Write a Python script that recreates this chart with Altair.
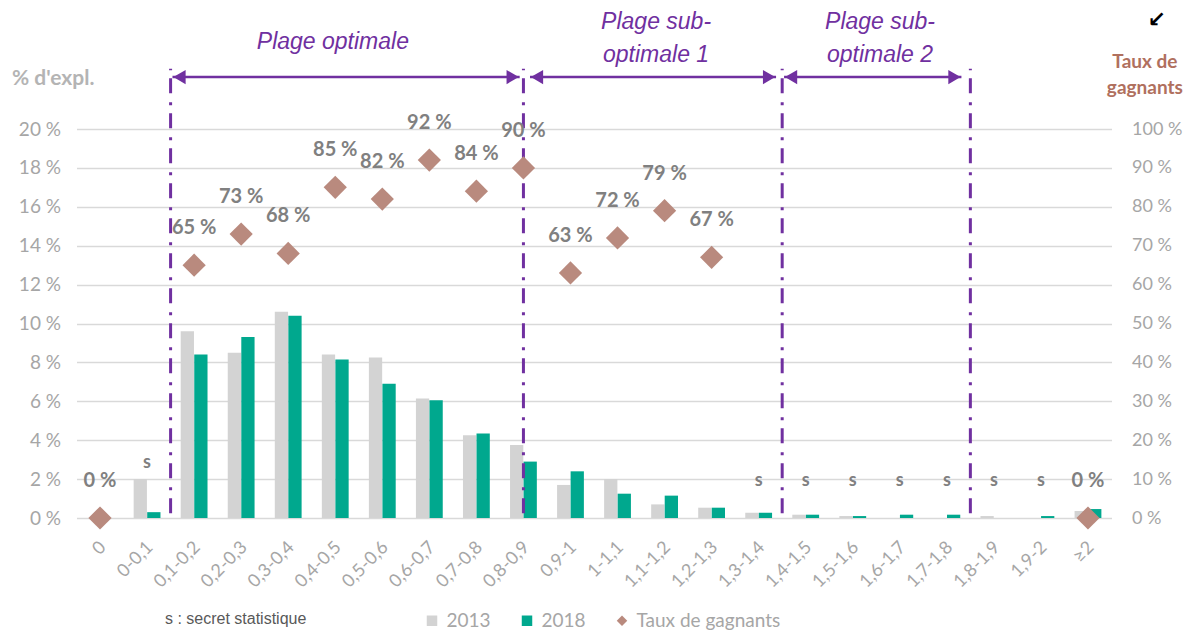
import altair as alt
import pandas as pd

# ---------------- data ----------------
categories = ["0", "0-0,1", "0,1-0,2", "0,2-0,3", "0,3-0,4", "0,4-0,5", "0,5-0,6",
              "0,6-0,7", "0,7-0,8", "0,8-0,9", "0,9-1", "1-1,1", "1,1-1,2", "1,2-1,3",
              "1,3-1,4", "1,4-1,5", "1,5-1,6", "1,6-1,7", "1,7-1,8", "1,8-1,9", "1,9-2", "≥2"]
share_2013 = [0, 2.0, 9.6, 8.5, 10.6, 8.4, 8.25, 6.15, 4.25, 3.75, 1.7, 2.0, 0.7, 0.53,
              0.27, 0.17, 0.1, 0, 0, 0.1, 0, 0.36]
share_2018 = [0, 0.3, 8.4, 9.3, 10.4, 8.15, 6.9, 6.05, 4.35, 2.9, 2.4, 1.25, 1.15, 0.53,
              0.27, 0.17, 0.1, 0.17, 0.17, 0, 0.1, 0.46]
win_rate = [0, None, 65, 73, 68, 85, 82, 92, 84, 90, 63, 72, 79, 67,
            None, None, None, None, None, None, None, 0]
secret = [False, True, False, False, False, False, False, False, False, False, False,
          False, False, False, True, True, True, True, True, True, True, False]

series_names = ["2013", "2018", "Taux de gagnants"]
series_colors = ["#D3D3D3", "#00A88E", "#B98A7E"]
series_shapes = ["square", "square", "diamond"]

left_ticks = list(range(0, 21, 2))
right_ticks = list(range(0, 101, 10))

# zone boundaries (in category-index units) and zone labels
zone_bounds = [2, 9.5, 15, 19]
arrow_start = [2.04, 9.64, 15.04]
arrow_end = [9.42, 14.87, 18.81]
zone_labels = ["Plage optimale", "Plage sub-\noptimale 1", "Plage sub-\noptimale 2"]
zone_label_x = [5.45, 12.32, 17.08]
zone_label_y = [24.47, 25.5, 25.5]

# ---------------- tables ----------------
bars_df = pd.DataFrame(
    [{"cat": c, "series": "2013", "value": v} for c, v in zip(categories, share_2013)]
    + [{"cat": c, "series": "2018", "value": v} for c, v in zip(categories, share_2018)]
)
rate_df = pd.DataFrame({"cat": categories, "rate": win_rate})
rate_df = rate_df.dropna()
rate_df["series"] = "Taux de gagnants"
rate_df["label"] = rate_df["rate"].astype(int).astype(str) + " %"

sec_df = pd.DataFrame({"cat": categories, "secret": secret,
                       "top": [max(a, b) for a, b in zip(share_2013, share_2018)]})
sec_df = sec_df[sec_df["secret"]]
sec_high = sec_df[sec_df["top"] > 1].assign(s="s")
sec_low = sec_df[sec_df["top"] <= 1].assign(s="s")

vline_df = pd.DataFrame({"pos": zone_bounds, "y0": 0.25, "y1": 23.1})
arrow_df = pd.DataFrame({"x0": arrow_start, "x1": arrow_end, "y": 22.67})
zone_df = pd.DataFrame({"label": zone_labels, "x": zone_label_x, "y": zone_label_y})

W, H = 1035, 389
N = len(categories)
PURPLE = "#7030A0"
GREY_TXT = "#A6A6A6"
LABEL_TXT = "#808080"

band_scale = alt.Scale(domain=categories, paddingInner=0.43, paddingOuter=0.215)
xq_scale = alt.Scale(domain=[0, N], nice=False, zero=False)
yl_scale = alt.Scale(domain=[0, 20], nice=False)
yr_scale = alt.Scale(domain=[0, 100], nice=False)
color_scale = alt.Scale(domain=series_names, range=series_colors)
shape_scale = alt.Scale(domain=series_names, range=series_shapes)


def xband(axis=None):
    return alt.X("cat:N", sort=categories, scale=band_scale, axis=axis, title=None)


legend = alt.Legend(orient="none", legendX=346, legendY=482, direction="horizontal",
                    title=None, symbolSize=110, labelFontSize=19, labelFont="Lato",
                    labelColor=GREY_TXT, columnPadding=26, labelOffset=5,
                    symbolStrokeWidth=0)

bars = alt.Chart(bars_df).mark_bar().encode(
    x=xband(alt.Axis(labelAngle=-45, labelFontSize=18, labelColor=GREY_TXT,
                     labelFont="Lato", ticks=False, domain=False, labelPadding=20,
                     labelOffset=-3, labelOverlap=False)),
    xOffset=alt.XOffset("series:N", scale=alt.Scale(domain=["2013", "2018"],
                                                     paddingInner=0.02)),
    y=alt.Y("value:Q", scale=yl_scale, title=None,
            axis=alt.Axis(values=left_ticks, labelExpr="datum.value + ' %'",
                          grid=True, gridColor="#D9D9D9", gridWidth=1.5,
                          ticks=False, domain=False, labelPadding=16,
                          labelFontSize=19, labelFont="Lato", labelColor=GREY_TXT)),
    color=alt.Color("series:N", scale=color_scale, legend=legend),
)

s_high = alt.Chart(sec_high).mark_text(dy=-16, fontSize=18, font="Lato",
                                       color=LABEL_TXT, fontWeight="bold").encode(
    x=xband(), y=alt.Y("top:Q", scale=yl_scale, axis=None), text="s:N")
s_low = alt.Chart(sec_low).mark_text(dy=-37, fontSize=18, font="Lato",
                                     color=LABEL_TXT, fontWeight="bold").encode(
    x=xband(), y=alt.Y("zero:Q", scale=yl_scale, axis=None), text="s:N"
).transform_calculate(zero="0")

diamonds = alt.Chart(rate_df).mark_point(filled=True, size=540, opacity=1).encode(
    x=xband(),
    y=alt.Y("rate:Q", scale=yr_scale, title=None,
            axis=alt.Axis(orient="right", values=right_ticks,
                          labelExpr="datum.value + ' %'", grid=False, ticks=False,
                          domain=False, labelPadding=20, labelFontSize=18,
                          labelFont="Lato", labelColor=GREY_TXT)),
    color=alt.Color("series:N", scale=color_scale, legend=legend),
    shape=alt.Shape("series:N", scale=shape_scale, legend=legend),
)

rate_labels = alt.Chart(rate_df).mark_text(dy=-37, fontSize=20, font="Lato",
                                           color=LABEL_TXT, fontWeight="bold").encode(
    x=xband(), y=alt.Y("rate:Q", scale=yr_scale, axis=None), text="label:N")

vlines = alt.Chart(vline_df).mark_rule(color=PURPLE, strokeWidth=3,
                                       strokeDash=[15, 8, 3, 9]).encode(
    x=alt.X("pos:Q", scale=xq_scale, axis=None),
    y=alt.Y("y0:Q", scale=yl_scale, axis=None), y2="y1:Q")

arrow_lines = alt.Chart(arrow_df).mark_rule(color=PURPLE, strokeWidth=2.5).encode(
    x=alt.X("x0:Q", scale=xq_scale, axis=None), x2="x1:Q",
    y=alt.Y("y:Q", scale=yl_scale, axis=None))
head_l = alt.Chart(arrow_df).mark_point(shape="triangle-left", filled=True, size=200,
                                        color=PURPLE, opacity=1, xOffset=7).encode(
    x=alt.X("x0:Q", scale=xq_scale, axis=None),
    y=alt.Y("y:Q", scale=yl_scale, axis=None))
head_r = alt.Chart(arrow_df).mark_point(shape="triangle-right", filled=True, size=200,
                                        color=PURPLE, opacity=1, xOffset=-7).encode(
    x=alt.X("x1:Q", scale=xq_scale, axis=None),
    y=alt.Y("y:Q", scale=yl_scale, axis=None))

zone_text = alt.Chart(zone_df).mark_text(font="Liberation Sans", fontStyle="italic",
                                         fontSize=23, color=PURPLE, lineBreak="\n",
                                         lineHeight=33, align="center",
                                         baseline="middle").encode(
    x=alt.X("x:Q", scale=xq_scale, axis=None),
    y=alt.Y("y:Q", scale=yl_scale, axis=None), text="label:N")

misc_df = pd.DataFrame({
    "txt": ["% d'expl.", "Taux de\ngagnants", "s : secret statistique", "↙"],
    "x": [-1.37, 22.71, 1.88, 22.96],
    "y": [22.57, 23.44, -5.2, 25.6],
    "kind": ["ltitle", "rtitle", "note", "arrow"],
})


def misc(kind, **kw):
    return alt.Chart(misc_df[misc_df["kind"] == kind]).mark_text(
        lineBreak="\n", baseline="middle", **kw).encode(
        x=alt.X("x:Q", scale=xq_scale, axis=None),
        y=alt.Y("y:Q", scale=yl_scale, axis=None), text="txt:N")


ltitle = misc("ltitle", align="left", font="Lato", fontSize=21, fontWeight="bold",
              color="#B4B4B4")
rtitle = misc("rtitle", align="center", font="Lato", fontSize=19, fontWeight="bold",
              color="#B0705E", lineHeight=26)
note = misc("note", align="left", font="Liberation Sans", fontSize=16, color="#595959")
corner = misc("arrow", align="center", font="DejaVu Sans", fontSize=22,
              fontWeight="bold", color="#000000")

chart = alt.layer(
    bars, s_high, s_low, vlines, arrow_lines, head_l, head_r, diamonds, rate_labels,
    zone_text, ltitle, rtitle, note, corner,
).resolve_scale(
    x="independent", y="independent"
).properties(
    width=W, height=H,
    autosize=alt.AutoSizeParams(type="none"),
    padding={"left": 68.5, "top": 121, "right": 74, "bottom": 112},
).configure_view(stroke=None)

chart.save("out.html", embed_options={"renderer": "svg", "actions": False})
